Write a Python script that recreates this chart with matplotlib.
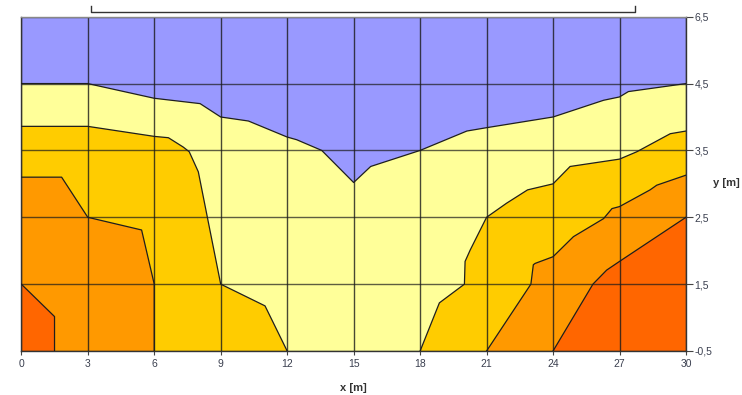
import numpy as np
import matplotlib.pyplot as plt
import matplotlib.transforms as mtransforms

# y axis is drawn with evenly spaced levels (non linear in metres)
y_levels = [-0.5, 1.5, 2.5, 3.5, 4.5, 6.5]
y_labels = ["-0,5", "1,5", "2,5", "3,5", "4,5", "6,5"]
x_ticks = [0, 3, 6, 9, 12, 15, 18, 21, 24, 27, 30]

# zone boundaries (x in m, y in m)
blue_x = [0, 3, 6, 8.07, 9, 10.25, 12, 12.43, 13.56, 15, 15.77, 18, 20.11, 21, 24, 26.28, 27, 27.4, 30]
blue_y = [4.5, 4.5, 4.28, 4.2, 4.0, 3.94, 3.7, 3.66, 3.5, 3.02, 3.26, 3.5, 3.79, 3.84, 4.0, 4.25, 4.3, 4.38, 4.5]

gold_left_x = [0, 3, 6, 6.64, 7.31, 7.58, 7.99, 8.44, 9, 11, 12]
gold_left_y = [3.86, 3.86, 3.71, 3.69, 3.55, 3.48, 3.18, 2.43, 1.5, 0.85, -0.5]
gold_right_x = [18, 18.87, 20, 20.03, 20.26, 21, 21.9, 22.85, 24, 24.77, 27, 27.78, 29.29, 30]
gold_right_y = [-0.5, 0.94, 1.5, 1.84, 2.01, 2.5, 2.71, 2.91, 3.0, 3.26, 3.37, 3.48, 3.75, 3.79]

orange_left_x = [0, 1.82, 3, 5.43, 6, 6]
orange_left_y = [3.1, 3.1, 2.5, 2.31, 1.5, -0.5]
orange_right_x = [21, 23, 23.11, 23.19, 24, 24.92, 26.28, 26.66, 27, 28.38, 28.68, 30]
orange_right_y = [-0.5, 1.5, 1.79, 1.81, 1.91, 2.21, 2.48, 2.63, 2.66, 2.91, 2.98, 3.13]

red_left_x = [0, 1.5, 1.5]
red_left_y = [1.5, 0.53, -0.5]
red_right_x = [24, 25.8, 26.42, 27, 30]
red_right_y = [-0.5, 1.5, 1.71, 1.84, 2.5]

c_blue = "#9999ff"
c_pale = "#ffff99"
c_gold = "#ffcc00"
c_orange = "#ff9900"
c_red = "#ff6600"

plt.rcParams['font.family'] = ['Liberation Sans', 'DejaVu Sans']

idx = np.arange(len(y_levels))
fwd = lambda v: np.interp(v, y_levels, idx)
inv = lambda v: np.interp(v, idx, y_levels)

fig = plt.figure(figsize=(7.42, 3.95), dpi=100)
ax = fig.add_axes([0.0287, 0.1114, 0.9245 - 0.0287, 0.9577 - 0.1114])
ax.set_yscale('function', functions=(fwd, inv))
ax.set_xlim(0, 30)
ax.set_ylim(y_levels[0], y_levels[-1])
ax.set_facecolor(c_pale)

ymin, ymax = y_levels[0], y_levels[-1]
ax.fill(blue_x + [30, 0], blue_y + [ymax, ymax], color=c_blue, lw=0, zorder=1)

# left zones close on x=0, right zones on x=30
for xs, ys, edge, col in [(gold_left_x, gold_left_y, 0, c_gold),
                          (gold_right_x, gold_right_y, 30, c_gold),
                          (orange_left_x, orange_left_y, 0, c_orange),
                          (orange_right_x, orange_right_y, 30, c_orange),
                          (red_left_x, red_left_y, 0, c_red),
                          (red_right_x, red_right_y, 30, c_red)]:
    ax.fill(xs + [edge], ys + [ymin], color=col, lw=0, zorder=1)

# grid
for xv in x_ticks:
    ax.axvline(xv, color="#1a1a1a", lw=1.0, alpha=0.8, zorder=2)
for yv in y_levels:
    ax.axhline(yv, color="#1a1a1a", lw=1.0, alpha=0.7, zorder=2)

# boundaries
for xs, ys in [(blue_x, blue_y), (gold_left_x, gold_left_y), (gold_right_x, gold_right_y),
               (orange_left_x, orange_left_y), (orange_right_x, orange_right_y),
               (red_left_x, red_left_y), (red_right_x, red_right_y)]:
    ax.plot(xs, ys, color="#1e1e1e", lw=0.9, zorder=3)

ax.set_xticks(x_ticks)
ax.set_xticklabels([str(v) for v in x_ticks])
ax.set_yticks(y_levels)
ax.set_yticklabels(y_labels)
ax.yaxis.tick_right()
ax.tick_params(axis='x', length=3, width=0.8, colors="#444444", labelsize=7.5, pad=3,
               labelcolor="#3a3f4f")
ax.tick_params(axis='y', length=5, width=0.8, colors="#444444", labelsize=7.5, pad=1,
               labelcolor="#3a3f4f")
ax.minorticks_off()
for s in ax.spines.values():
    s.set_color("#333333")
    s.set_linewidth(1.0)
ax.spines['top'].set_color("#888888")

fig.text(353 / 742, 1 - 388 / 395, "x [m]", ha='center', va='center', fontsize=8,
         fontweight='bold', color="#333333")
fig.text(713 / 742, 1 - 183 / 395, "y [m]", ha='left', va='center', fontsize=8,
         fontweight='bold', color="#333333")

# bracket above the plot
trans = mtransforms.blended_transform_factory(ax.transData, ax.transAxes)
ax.plot([3.15, 3.15, 27.71, 27.71], [1.032, 1.015, 1.015, 1.032], color="#333333",
        lw=1.0, transform=trans, clip_on=False)

fig.savefig("out.png", dpi=100)
